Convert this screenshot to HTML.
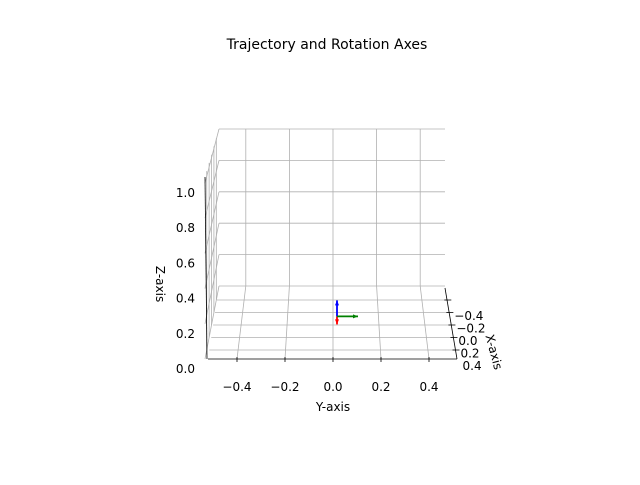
<!DOCTYPE html>
<html><head><meta charset="utf-8"><style>
body{margin:0;background:#fff}
svg{font-family:"DejaVu Sans","Liberation Sans",sans-serif}
</style></head><body>
<svg width="640" height="480" viewBox="0 0 640 480" xmlns="http://www.w3.org/2000/svg">
<rect width="640" height="480" fill="#fff"/>
<text x="327" y="49" font-size="14" text-anchor="middle">Trajectory and Rotation Axes</text>
<g id="grid"></g>
<g id="axes"></g>
<g id="arrows"></g>
<text x="333" y="411" font-size="12" text-anchor="middle">Y-axis</text>
<text transform="translate(156,284) rotate(90)" font-size="12" text-anchor="middle">Z-axis</text>
<text transform="translate(490,353) rotate(75)" font-size="12" text-anchor="middle">X-axis</text>
</svg>
<script>
const yTicks=[-0.4,-0.2,0.0,0.2,0.4];
const zTicks=[0.0,0.2,0.4,0.6,0.8,1.0];
const xTicks=[-0.4,-0.2,0.0,0.2,0.4];
const yLabels=["−0.4","−0.2","0.0","0.2","0.4"];
const zLabels=["0.0","0.2","0.4","0.6","0.8","1.0"];
const xLabels=["−0.4","−0.2","0.0","0.2","0.4"];
const origin=[0,0,0.1];
const arrowX=[0,0,-0.05];
const arrowY=[0,0.1,0];
const arrowZ=[0,0,0.1];
const NS="http://www.w3.org/2000/svg";
function el(t,a,p){const e=document.createElementNS(NS,t);for(const k in a)e.setAttribute(k,a[k]);p.appendChild(e);return e;}
function yBack(y){return 333+y*218;}
function yFront(y){return 333+y*240;}
function zBack(z){return 286-z*157;}
function zLeft(z){return 359-z*176;}
function xFloorY(x){return 325+x*62.5;}
function floorLeft(yy){return 219-(yy-286)/73*11;}
function floorRight(yy){return 445+(yy-286)/73*12;}
const grid=document.getElementById('grid'),axes=document.getElementById('axes'),arr=document.getElementById('arrows');
const gs={stroke:'#b0b0b0','stroke-width':0.8,fill:'none'};
let l;
zTicks.forEach(z=>{l=el('line',Object.assign({x1:219,y1:zBack(z),x2:445,y2:zBack(z)},gs),grid);


l=el('line',Object.assign({x1:219,y1:zBack(z),x2:205,y2:zLeft(z)},gs),grid);

});
yTicks.forEach(y=>{l=el('line',Object.assign({x1:yBack(y),y1:zBack(1),x2:yBack(y),y2:zBack(0)},gs),grid);


l=el('line',Object.assign({x1:yBack(y),y1:zBack(0),x2:yFront(y),y2:359},gs),grid);

});
xTicks.forEach(x=>{const yy=xFloorY(x);
l=el('line',Object.assign({x1:floorLeft(yy),y1:yy,x2:floorRight(yy),y2:yy},gs),grid);


const t=(yy-286)/73;
l=el('line',Object.assign({x1:219-t*14,y1:zBack(1)+t*48,x2:219-t*14,y2:yy},gs),grid);

});
const as={stroke:'#000','stroke-width':0.8};
l=el('line',Object.assign({x1:208,y1:359,x2:457,y2:359},as),axes);


l=el('line',Object.assign({x1:205,y1:177,x2:207,y2:359},as),axes);


l=el('line',Object.assign({x1:445,y1:288,x2:457,y2:359},as),axes);


yTicks.forEach((y,i)=>{const x=yFront(y);
l=el('line',Object.assign({x1:x,y1:357,x2:x,y2:362},as),axes);


const t=el('text',{x:x,y:391,'font-size':12,'text-anchor':'middle'},axes);t.textContent=yLabels[i];

});
zTicks.forEach((z,i)=>{const yy=zLeft(z);
const t=el('text',{x:195,y:yy+14,'font-size':12,'text-anchor':'end'},axes);t.textContent=zLabels[i];

});
xTicks.forEach((x,i)=>{const yy=xFloorY(x);const xr=floorRight(yy);
l=el('line',Object.assign({x1:xr-3,y1:yy,x2:xr+4,y2:yy},as),axes);


const t=el('text',{x:xr+7,y:yy+20,'font-size':12},axes);t.textContent=xLabels[i];

});
function P(p){return [yFront(p[1])+4, 359-(p[2])*176-25];}
const o=P(origin);
function arrow(v,c,name){const e=[o[0]+v[1]*210,o[1]-v[2]*160];
l=el('line',{x1:o[0],y1:o[1],x2:e[0],y2:e[1],stroke:c,'stroke-width':1.8},arr);


const dx=e[0]-o[0],dy=e[1]-o[1],L=Math.hypot(dx,dy)||1,ux=dx/L,uy=dy/L;
const h=el('polygon',{points:`${e[0]},${e[1]} ${e[0]-ux*5-uy*2},${e[1]-uy*5+ux*2} ${e[0]-ux*5+uy*2},${e[1]-uy*5-ux*2}`,fill:c},arr);

}
arrow(arrowX,'red','x-rotation-arrow');
arrow(arrowZ,'blue','z-rotation-arrow');
arrow(arrowY,'green','y-rotation-arrow');
</script>
</body></html>
